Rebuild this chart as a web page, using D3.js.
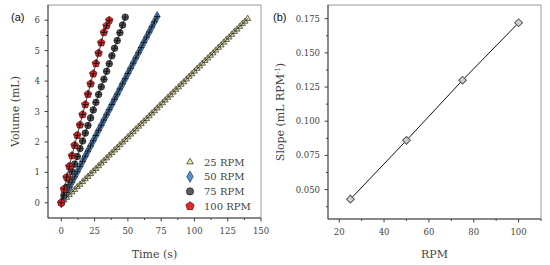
<!DOCTYPE html>
<html>
<head>
<meta charset="utf-8">
<script src="https://cdn.jsdelivr.net/npm/d3@7"></script>
<style>
    body { margin: 0; background: #fff; }
    svg { display: block; }
    .tick-label { font-family: "DejaVu Serif", serif; font-size: 8.5px; fill: #444; }
    .axis-title { font-family: "DejaVu Serif", serif; font-size: 11px; fill: #444; }
    .panel-label { font-family: "Liberation Sans", Arial, sans-serif; font-size: 11px; fill: #111; }
</style>
</head>
<body>
<div id="chart"></div>
<script>
// Panel (a): time axis (s), one shared list of sampling times
const time = [0, 2, 4, 6, 8, 10, 12, 14, 16, 18, 20, 22, 24, 26, 28, 30, 32, 34, 36, 38, 40,
    42, 44, 46, 48, 50, 52, 54, 56, 58, 60, 62, 64, 66, 68, 70, 72, 74, 76, 78, 80,
    82, 84, 86, 88, 90, 92, 94, 96, 98, 100, 102, 104, 106, 108, 110, 112, 114, 116, 118, 120,
    122, 124, 126, 128, 130, 132, 134, 136, 138, 140];

// Volume (mL) for each stirring speed
const vol25 = [0.00, 0.09, 0.17, 0.26, 0.35, 0.43, 0.52, 0.60, 0.69, 0.78, 0.86, 0.95, 1.04, 1.12, 1.21,
    1.30, 1.38, 1.47, 1.56, 1.64, 1.73, 1.81, 1.90, 1.99, 2.07, 2.16, 2.25, 2.33, 2.42, 2.51,
    2.59, 2.68, 2.76, 2.85, 2.94, 3.02, 3.11, 3.20, 3.28, 3.37, 3.46, 3.54, 3.63, 3.72, 3.80,
    3.89, 3.97, 4.06, 4.15, 4.23, 4.32, 4.41, 4.49, 4.58, 4.67, 4.75, 4.84, 4.92, 5.01, 5.10,
    5.18, 5.27, 5.36, 5.44, 5.53, 5.62, 5.70, 5.79, 5.88, 5.96, 6.05];
const vol50 = [0.00, 0.17, 0.34, 0.51, 0.68, 0.85, 1.02, 1.19, 1.36, 1.53, 1.70, 1.87, 2.04, 2.21, 2.38,
    2.55, 2.72, 2.89, 3.06, 3.23, 3.40, 3.57, 3.74, 3.91, 4.08, 4.25, 4.42, 4.59, 4.76, 4.93,
    5.10, 5.27, 5.44, 5.61, 5.78, 5.95, 6.12];
const vol75 = [0.00, 0.25, 0.51, 0.76, 1.02, 1.27, 1.52, 1.78, 2.03, 2.29, 2.54, 2.79, 3.05, 3.30, 3.56,
    3.81, 4.06, 4.32, 4.57, 4.83, 5.08, 5.33, 5.59, 5.84, 6.10];
const vol100 = [0.00, 0.45, 0.84, 1.20, 1.55, 1.89, 2.22, 2.56, 2.90, 3.23, 3.57, 3.91, 4.24, 4.58,
    4.92, 5.26, 5.60, 5.82, 6.00];

const seriesNames = ["25 RPM", "50 RPM", "75 RPM", "100 RPM"];

// Panel (b): fitted slope against stirring speed
const rpm = [25, 50, 75, 100];
const slope = [0.043, 0.086, 0.130, 0.172];

// Tick labels
const timeTicks = [0, 25, 50, 75, 100, 125, 150];
const volumeTicks = [0, 1, 2, 3, 4, 5, 6];
const rpmTicks = [20, 40, 60, 80, 100];
const slopeTicks = [0.050, 0.075, 0.100, 0.125, 0.150, 0.175];

// Marker style for each series
const styles = [
    {shape: "triangle", size: 16, fill: "#e8e4a6", stroke: "#2e2e24", cross: false},
    {shape: "diamond", size: 30, fill: "#5b8fc9", stroke: "#1f3d60", cross: true},
    {shape: "circle", size: 34, fill: "#5e5e5e", stroke: "#1a1a1a", cross: true},
    {shape: "pentagon", size: 4.0, fill: "#e3262b", stroke: "#5a0a0a", cross: true}
];

const svg = d3.select("#chart")
    .append("svg")
    .attr("width", 550)
    .attr("height", 265);

function pentagonPath(r) {
    const pts = d3.range(5).map(k => {
        const a = -Math.PI / 2 + k * 2 * Math.PI / 5;
        return [r * Math.cos(a), r * Math.sin(a)];
    });
    return "M" + pts.join("L") + "Z";
}

function markerPath(style, scale) {
    if (style.shape === "triangle") return d3.symbol(d3.symbolTriangle, style.size * scale)();
    if (style.shape === "diamond") return d3.symbol(d3.symbolDiamond, style.size * scale)();
    if (style.shape === "circle") return d3.symbol(d3.symbolCircle, style.size * scale)();
    return pentagonPath(style.size * Math.sqrt(scale));
}

function drawMarker(g, x, y, style, withCross, scale) {
    const m = g.append("g").attr("transform", `translate(${x},${y})`);
    m.append("path")
        .attr("d", markerPath(style, scale))
        .attr("fill", style.fill)
        .attr("stroke", style.stroke)
        .attr("stroke-width", 0.7);
    if (withCross && style.cross) {
        m.append("path")
            .attr("d", "M-3,0H3M0,-3V3")
            .attr("stroke", "#111")
            .attr("stroke-width", 0.9);
    }
}

// Frame with outward ticks on bottom and left
function drawFrame(x, y, xMajor, xMinor, yMajor, yMinor, xFmt, yFmt) {
    const [x0, x1] = x.range();
    const [y0, y1] = y.range();

    svg.append("rect")
        .attr("x", x0).attr("y", y1)
        .attr("width", x1 - x0).attr("height", y0 - y1)
        .attr("fill", "none")
        .attr("stroke", "#999")
        .attr("stroke-width", 1);

    svg.append("line").attr("x1", x0).attr("x2", x1).attr("y1", y0).attr("y2", y0)
        .attr("stroke", "#444").attr("stroke-width", 1);
    svg.append("line").attr("x1", x0).attr("x2", x0).attr("y1", y0).attr("y2", y1)
        .attr("stroke", "#444").attr("stroke-width", 1);

    xMajor.forEach(v => {
        svg.append("line").attr("x1", x(v)).attr("x2", x(v)).attr("y1", y0).attr("y2", y0 + 3.5)
            .attr("stroke", "#444");
        svg.append("text").attr("class", "tick-label")
            .attr("x", x(v)).attr("y", y0 + 16)
            .attr("text-anchor", "middle")
            .text(xFmt(v));
    });
    xMinor.forEach(v => {
        svg.append("line").attr("x1", x(v)).attr("x2", x(v)).attr("y1", y0).attr("y2", y0 + 2)
            .attr("stroke", "#444");
    });
    yMajor.forEach(v => {
        svg.append("line").attr("x1", x0 - 3.5).attr("x2", x0).attr("y1", y(v)).attr("y2", y(v))
            .attr("stroke", "#444");
        svg.append("text").attr("class", "tick-label")
            .attr("x", x0 - 8).attr("y", y(v) + 3)
            .attr("text-anchor", "end")
            .text(yFmt(v));
    });
    yMinor.forEach(v => {
        svg.append("line").attr("x1", x0 - 2).attr("x2", x0).attr("y1", y(v)).attr("y2", y(v))
            .attr("stroke", "#444");
    });
}

// ---------- Panel (a) ----------
const xA = d3.scaleLinear().domain([-10, 150]).range([48, 261]);
const yA = d3.scaleLinear().domain([-0.5, 6.5]).range([218, 5]);

drawFrame(xA, yA, timeTicks,
    timeTicks.slice(0, -1).map(d => d + 12.5),
    volumeTicks,
    volumeTicks.map(d => d + 0.5).slice(0, -1),
    d => d, d => d);

const volumes = [vol25, vol50, vol75, vol100];
const plotA = svg.append("g");
const line = d3.line().x(d => xA(d[0])).y(d => yA(d[1]));

volumes.forEach((vals, i) => {
    const pts = vals.map((v, j) => [time[j], v]);
    const g = plotA.append("g");
    pts.forEach(p => drawMarker(g, xA(p[0]), yA(p[1]), styles[i], true, 1));
    plotA.append("path")
        .attr("d", line(pts))
        .attr("fill", "none")
        .attr("stroke", "#111")
        .attr("stroke-width", 0.8);
});

// Legend
const legend = svg.append("g");
seriesNames.forEach((name, i) => {
    const ly = 162 + i * 14.7;
    drawMarker(legend, 190, ly, styles[i], false, 1.2);
    legend.append("text")
        .attr("class", "tick-label")
        .style("font-size", "10px")
        .attr("x", 204).attr("y", ly + 3.5)
        .text(name);
});

svg.append("text").attr("class", "axis-title")
    .attr("x", (xA.range()[0] + xA.range()[1]) / 2).attr("y", 258)
    .attr("text-anchor", "middle")
    .text("Time (s)");

svg.append("text").attr("class", "axis-title")
    .attr("transform", `translate(19,${(yA.range()[0] + yA.range()[1]) / 2}) rotate(-90)`)
    .attr("text-anchor", "middle")
    .text("Volume (mL)");

svg.append("text").attr("class", "panel-label")
    .attr("x", 11).attr("y", 21)
    .text("(a)");

// ---------- Panel (b) ----------
const xB = d3.scaleLinear().domain([15, 110]).range([328, 541]);
const yB = d3.scaleLinear().domain([0.0285, 0.185]).range([219, 5]);

drawFrame(xB, yB, rpmTicks,
    [30, 50, 70, 90, 110],
    slopeTicks,
    [0.0375, 0.0625, 0.0875, 0.1125, 0.1375, 0.1625],
    d => d, d => d.toFixed(3));

const slopeData = rpm.map((r, i) => [r, slope[i]]);
svg.append("path")
    .attr("d", d3.line().x(d => xB(d[0])).y(d => yB(d[1]))(slopeData))
    .attr("fill", "none")
    .attr("stroke", "#111")
    .attr("stroke-width", 1);

// Square markers turned 45 degrees
svg.append("g")
    .selectAll("path")
    .data(slopeData)
    .enter()
    .append("path")
    .attr("transform", d => `translate(${xB(d[0])},${yB(d[1])}) rotate(45)`)
    .attr("d", d3.symbol(d3.symbolSquare, 30)())
    .attr("fill", "#cfcfcf")
    .attr("fill-opacity", 0.85)
    .attr("stroke", "#555")
    .attr("stroke-width", 1);

svg.append("text").attr("class", "axis-title")
    .attr("x", (xB.range()[0] + xB.range()[1]) / 2).attr("y", 258)
    .attr("text-anchor", "middle")
    .text("RPM");

const slopeTitle = svg.append("text").attr("class", "axis-title")
    .attr("transform", `translate(284,${(yB.range()[0] + yB.range()[1]) / 2}) rotate(-90)`)
    .attr("text-anchor", "middle");
slopeTitle.append("tspan").text("Slope (mL RPM");
slopeTitle.append("tspan").attr("dy", -4).style("font-size", "7px").text("-1");
slopeTitle.append("tspan").attr("dy", 4).text(")");

svg.append("text").attr("class", "panel-label")
    .attr("x", 273).attr("y", 21)
    .text("(b)");
</script>
</body>
</html>
